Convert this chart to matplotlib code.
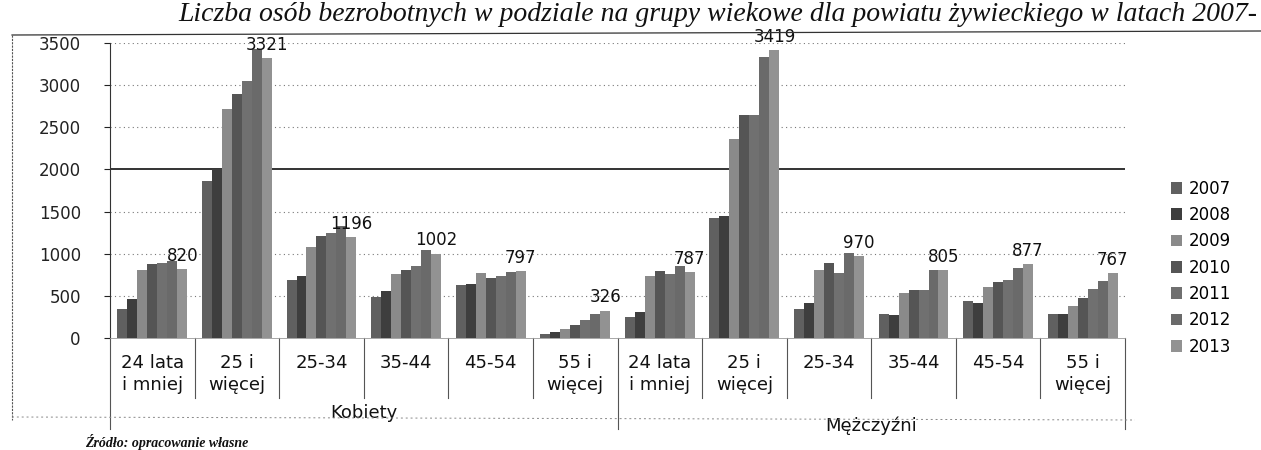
import matplotlib
matplotlib.use('Agg')
import matplotlib.pyplot as plt
import matplotlib.transforms as mtransforms
from matplotlib.patches import Patch
from matplotlib.lines import Line2D
import numpy as np

years = ['2007', '2008', '2009', '2010', '2011', '2012', '2013']
sexes = ['Kobiety', 'Mężczyźni']
age_labels = ['24 lata\ni mniej', '25 i\nwięcej', '25-34', '35-44', '45-54', '55 i\nwięcej']

# values per category, years 2007..2013
k_24_mniej = [340, 460, 810, 880, 890, 910, 820]
k_25_wiecej = [1860, 2000, 2720, 2890, 3050, 3430, 3321]
k_25_34 = [690, 730, 1080, 1210, 1250, 1330, 1196]
k_35_44 = [490, 560, 760, 810, 860, 1040, 1002]
k_45_54 = [630, 640, 770, 710, 730, 780, 797]
k_55_wiecej = [50, 70, 110, 160, 210, 280, 326]

m_24_mniej = [250, 310, 740, 800, 760, 860, 787]
m_25_wiecej = [1420, 1450, 2360, 2640, 2640, 3330, 3419]
m_25_34 = [350, 420, 810, 890, 770, 1010, 970]
m_35_44 = [290, 270, 530, 570, 570, 810, 805]
m_45_54 = [440, 420, 610, 670, 690, 830, 877]
m_55_wiecej = [290, 280, 380, 480, 580, 680, 767]

data = np.array([k_24_mniej, k_25_wiecej, k_25_34, k_35_44, k_45_54, k_55_wiecej,
                 m_24_mniej, m_25_wiecej, m_25_34, m_35_44, m_45_54, m_55_wiecej])
cat_labels = age_labels + age_labels

colors = ['#606060', '#3e3e3e', '#8a8a8a', '#555555', '#707070', '#6a6a6a', '#929292']

W, H = 1261, 450
fig = plt.figure(figsize=(W / 100, H / 100), dpi=100)
ax = fig.add_axes([110 / W, 1 - 338 / H, (1125 - 110) / W, (338 - 43) / H])

n_cat = data.shape[0]
n_yr = data.shape[1]
bw = 0.118
x = np.arange(n_cat)
for j in range(n_yr):
    ax.bar(x + (j - (n_yr - 1) / 2) * bw, data[:, j], width=bw, color=colors[j],
           edgecolor='none', zorder=3)

# data labels for last year
for i in range(n_cat):
    xi = x[i] + (n_yr - 1 - (n_yr - 1) / 2) * bw
    ax.annotate(f'{data[i, -1]}', (xi, data[i, -1]), xytext=(0, 3),
                textcoords='offset points', ha='center', va='bottom',
                fontsize=12, color='#111111', zorder=5)

ax.set_xlim(-0.5, n_cat - 0.5)
ax.set_ylim(0, 3500)
ax.set_yticks(np.arange(0, 3501, 500))
ax.tick_params(axis='y', labelsize=12, length=4, pad=17, colors='#222222')
ax.tick_params(axis='x', bottom=False, labelbottom=False)
for yv in np.arange(500, 3501, 500):
    if yv == 2000:
        ax.axhline(yv, color='#111111', lw=1.2, zorder=2)
    else:
        ax.axhline(yv, color='#777777', lw=0.8, ls=(0, (1, 3)), zorder=2)
for s in ['top', 'right']:
    ax.spines[s].set_visible(False)
ax.spines['left'].set_color('#333333')
ax.spines['bottom'].set_color('#999999')
ax.spines['bottom'].set_linewidth(0.6)

# category axis
trans = mtransforms.blended_transform_factory(ax.transData, ax.transAxes)
for b in np.arange(-0.5, n_cat, 1.0):
    long = b in (-0.5, 5.5, n_cat - 0.5)
    y_end = -0.31 if long else -0.205
    ax.plot([b, b], [0, y_end], transform=trans, color='#555555', lw=0.8,
            clip_on=False)
for i in range(n_cat):
    ax.text(x[i], -0.055, cat_labels[i], transform=trans, ha='center', va='top',
            fontsize=13, linespacing=1.25, color='#111111')
ax.text(2.5, -0.225, sexes[0], transform=trans, ha='center', va='top',
        fontsize=13, color='#111111')
ax.text(8.5, -0.265, sexes[1], transform=trans, ha='center', va='top',
        fontsize=13, color='#111111')

# legend
handles = [Patch(facecolor=colors[j], edgecolor='none', label=years[j]) for j in range(n_yr)]
fig.legend(handles=handles, loc='upper left', bbox_to_anchor=(1164 / W, 1 - 173 / H),
           frameon=False, fontsize=12, handlelength=0.7, handleheight=0.7,
           handletextpad=0.4, labelspacing=0.5, borderaxespad=0)

# outer frame of the scanned chart
fig.add_artist(Line2D([12 / W, 1.0], [1 - 35 / H, 1 - 31 / H], transform=fig.transFigure,
                      color='#333333', lw=0.9))
fig.add_artist(Line2D([12 / W, 12 / W], [1 - 35 / H, 1 - 420 / H], transform=fig.transFigure,
                      color='#555555', lw=0.8, ls=(0, (2, 1))))
fig.add_artist(Line2D([12 / W, 1135 / W], [1 - 417 / H, 1 - 420 / H], transform=fig.transFigure,
                      color='#888888', lw=0.7, ls=(0, (2, 3))))

# title
fig.text(0.997, 1 - 21 / H,
         'Liczba osób bezrobotnych w podziale na grupy wiekowe dla powiatu żywieckiego w latach 2007-',
         ha='right', va='baseline', fontsize=20, family='Liberation Serif', style='italic',
         color='#111111')
fig.text(85 / W, 1 - 447 / H, 'Źródło: opracowanie własne', ha='left', va='baseline',
         fontsize=10, family='Liberation Serif', style='italic', weight='bold', color='#111111')

fig.savefig('out.png', dpi=100)
